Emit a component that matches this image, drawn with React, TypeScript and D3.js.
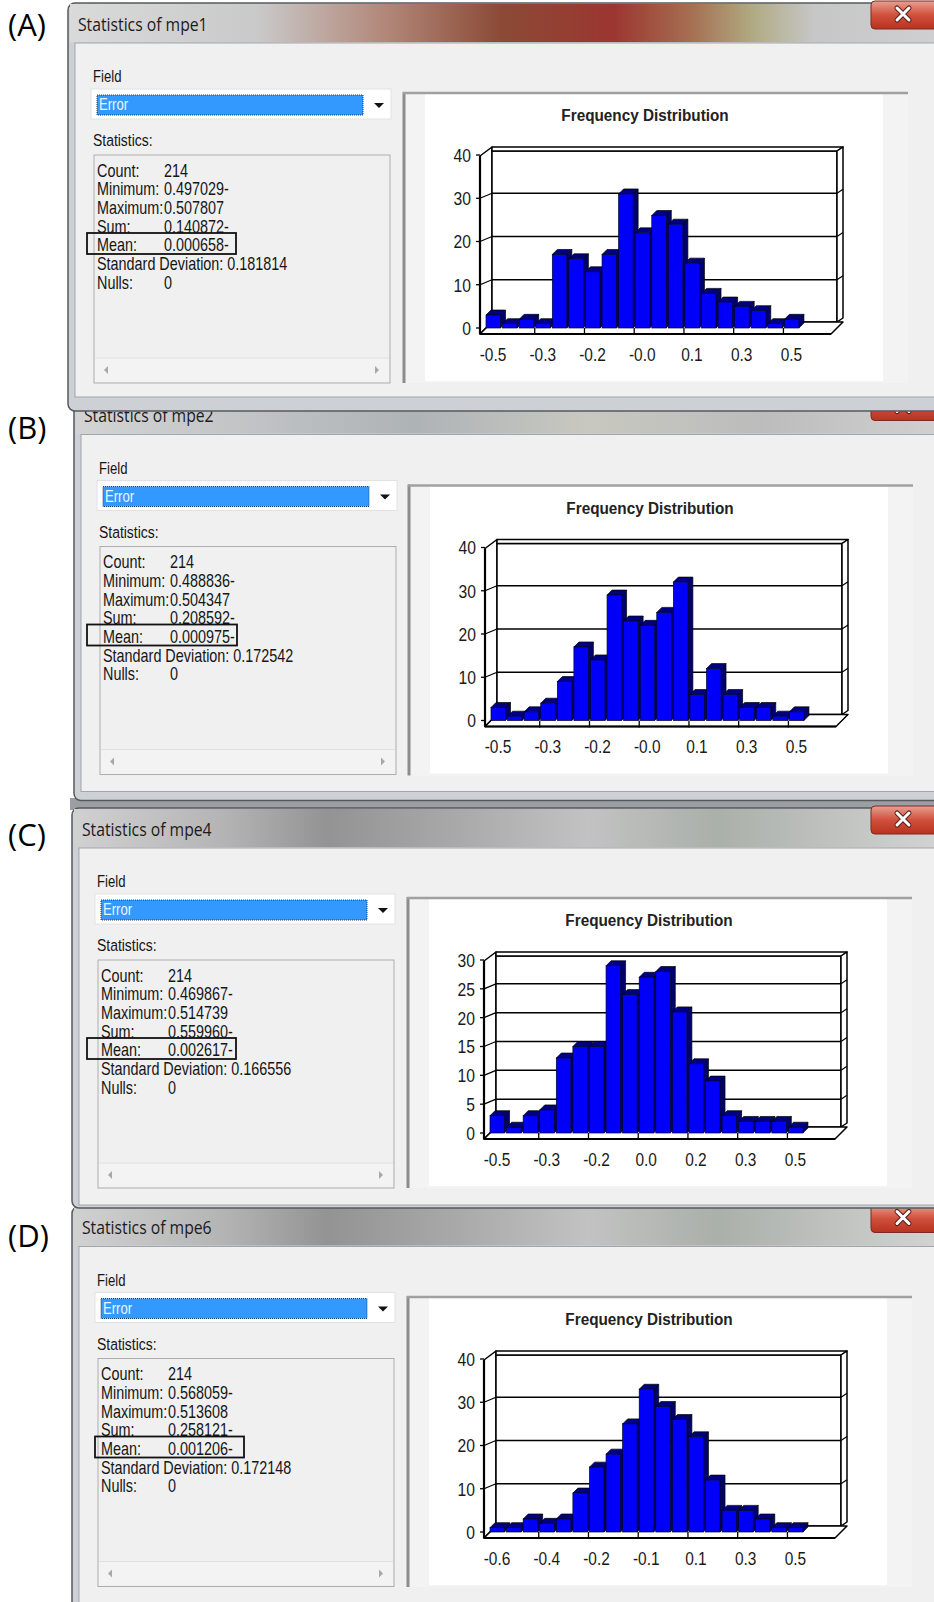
import { useEffect, useRef } from "react";
import * as d3 from "d3";

const W = 934;
const H = 1602;

// bin counts (19 bins each)
const countsA = [3, 1, 2, 1, 17, 16, 13, 17, 31, 22, 26, 24, 15, 8, 6, 5, 4, 1, 2];
const countsB = [3, 1, 2, 4, 9, 17, 14, 29, 23, 22, 25, 32, 6, 12, 6, 3, 3, 1, 2];
const countsC = [3, 1, 3, 4, 13, 15, 15, 29, 24, 27, 28, 21, 12, 9, 3, 2, 2, 2, 1];
const countsD = [1, 1, 3, 2, 3, 9, 15, 18, 25, 33, 29, 26, 22, 12, 5, 5, 3, 1, 1];

// x labels, one every third bin
const xLabelsA = ["-0.5", "-0.3", "-0.2", "-0.0", "0.1", "0.3", "0.5"];
const xLabelsB = ["-0.5", "-0.3", "-0.2", "-0.0", "0.1", "0.3", "0.5"];
const xLabelsC = ["-0.5", "-0.3", "-0.2", "0.0", "0.2", "0.3", "0.5"];
const xLabelsD = ["-0.6", "-0.4", "-0.2", "-0.1", "0.1", "0.3", "0.5"];

const yTicks40 = [0, 10, 20, 30, 40];
const yTicks30 = [0, 5, 10, 15, 20, 25, 30];

const statLabels = ["Count:", "Minimum:", "Maximum:", "Sum:", "Mean:", "Standard Deviation:", "Nulls:"];
const statsA = ["214", "0.497029-", "0.507807", "0.140872-", "0.000658-", "0.181814", "0"];
const statsB = ["214", "0.488836-", "0.504347", "0.208592-", "0.000975-", "0.172542", "0"];
const statsC = ["214", "0.469867-", "0.514739", "0.559960-", "0.002617-", "0.166556", "0"];
const statsD = ["214", "0.568059-", "0.513608", "0.258121-", "0.001206-", "0.172148", "0"];

const titles = ["Statistics of mpe1", "Statistics of mpe2", "Statistics of mpe4", "Statistics of mpe6"];
const panelLabels = ["(A)", "(B)", "(C)", "(D)"];

const UI = "'Liberation Sans', Arial, sans-serif";
const WIN = "'Open Sans', 'Noto Sans', sans-serif";

// placement of each window on the page
const panels = [
  { id: 0, counts: countsA, xLabels: xLabelsA, yTicks: yTicks40, stats: statsA, dy: 0, sx: 0, x0: 486, y0: 328, labelY: 24, winBottom: 411, contentBottom: 397, meanX: [87, 236] },
  { id: 1, counts: countsB, xLabels: xLabelsB, yTicks: yTicks40, stats: statsB, dy: 391.5, sx: 6, x0: 491, y0: 720.5, labelY: 427, winBottom: 409, contentBottom: 400, meanX: [87, 237] },
  { id: 2, counts: countsC, xLabels: xLabelsC, yTicks: yTicks30, stats: statsC, dy: 805, sx: 4, x0: 490, y0: 1133, labelY: 834, winBottom: 403, contentBottom: 400, meanX: [87, 236] },
  { id: 3, counts: countsD, xLabels: xLabelsD, yTicks: yTicks40, stats: statsD, dy: 1203.5, sx: 4, x0: 490, y0: 1532, labelY: 1235, winBottom: 420, contentBottom: 420, meanX: [95, 244] },
];

const titleBarStops = [
  [[0, "#dadada"], [0.22, "#c9c9c9"], [0.36, "#b38a7c"], [0.5, "#8b4a36"], [0.63, "#9c3630"], [0.72, "#a66f52"], [0.79, "#b0aa82"], [0.86, "#c6c6c6"], [1, "#cfcfcf"]],
  [[0, "#d4d4d4"], [0.2, "#c2c4c6"], [0.4, "#aeb3b6"], [0.6, "#c8c8c0"], [0.8, "#bcbcbc"], [1, "#d0d0d0"]],
  [[0, "#d2d2d2"], [0.18, "#b4b4b4"], [0.3, "#939393"], [0.45, "#a9a9a9"], [0.6, "#c2c2c2"], [0.75, "#aab0aa"], [1, "#d2d2d2"]],
  [[0, "#d2d2d2"], [0.18, "#b4b4b4"], [0.3, "#939393"], [0.45, "#a9a9a9"], [0.6, "#c2c2c2"], [0.75, "#aab0aa"], [1, "#d2d2d2"]],
];

type Sel = d3.Selection<any, unknown, null, undefined>;

function txt(g: Sel, s: string, x: number, y: number, o: any = {}) {
  return g
    .append("text")
    .attr("transform", `translate(${x},${y}) scale(${o.sx ?? 0.82},1)`)
    .attr("text-anchor", o.anchor ?? "start")
    .attr("dominant-baseline", "central")
    .style("font-family", o.family ?? UI)
    .style("font-size", `${o.size ?? 16}px`)
    .style("font-weight", o.weight ?? "normal")
    .style("fill", o.fill ?? "#161616")
    .text(s);
}

function drawChart(g: Sel, p: any) {
  const { x0, y0, counts, yTicks, xLabels } = p;
  const maxTick = d3.max(yTicks) as number;
  const yScale = d3.scaleLinear().domain([0, maxTick]).range([y0, y0 - 173]);
  const xBand = d3.scaleBand<number>().domain(d3.range(counts.length)).range([x0, x0 + 315]);
  const right = x0 + 351;
  const yTop = yScale(maxTick);
  const pts = (a: number[][]) => a.map((q) => q.join(",")).join(" ");

  // panel frame + white plot area
  g.append("rect").attr("x", x0 - 83).attr("y", y0 - 236).attr("width", 505).attr("height", 291).attr("fill", "#f3f3f3");
  g.append("rect").attr("x", x0 - 61).attr("y", y0 - 234).attr("width", 458).attr("height", 287).attr("fill", "#ffffff");
  g.append("line").attr("x1", x0 - 82).attr("x2", x0 - 82).attr("y1", y0 - 236).attr("y2", y0 + 55).attr("stroke", "#8c8c8c").attr("stroke-width", 3);
  g.append("line").attr("x1", x0 - 83).attr("x2", x0 + 422).attr("y1", y0 - 235).attr("y2", y0 - 235).attr("stroke", "#a0a0a0").attr("stroke-width", 2.5);

  txt(g, "Frequency Distribution", x0 + 159, y0 - 213, { size: 17, weight: "bold", sx: 0.9, anchor: "middle", fill: "#222" });

  const poly = (a: number[][], fill = "#fff", sw = 1.5) =>
    g.append("polygon").attr("points", pts(a)).attr("fill", fill).attr("stroke", "#000").attr("stroke-width", sw).attr("stroke-linejoin", "round");

  // left wall, back wall and its top / right edges
  poly([[x0 - 6, y0 + 6], [x0 - 6, yTop + 1], [x0 + 6, yTop - 8], [x0 + 6, y0 - 6]]);
  poly([[x0 + 6, yTop - 4], [right, yTop - 4], [right, y0 - 6], [x0 + 6, y0 - 6]]);
  poly([[x0 + 6, yTop - 4], [x0 + 6, yTop - 8], [right + 6, yTop - 8], [right, yTop - 4]]);
  poly([[right, yTop - 4], [right + 6, yTop - 8], [right + 6, y0 - 10], [right, y0 - 6]]);

  // gridlines
  yTicks.filter((v: number) => v > 0 && v < maxTick).forEach((v: number) => {
    const yy = yScale(v);
    g.append("line").attr("x1", x0 + 6).attr("x2", right).attr("y1", yy - 5).attr("y2", yy - 5).attr("stroke", "#000").attr("stroke-width", 1.5);
    g.append("line").attr("x1", right).attr("x2", right + 6).attr("y1", yy - 5).attr("y2", yy - 9).attr("stroke", "#000").attr("stroke-width", 1.2);
    g.append("line").attr("x1", x0 - 6).attr("x2", x0 + 6).attr("y1", yy).attr("y2", yy - 5).attr("stroke", "#000").attr("stroke-width", 1.2);
  });

  // floor
  poly([[x0 - 6, y0 + 6], [right - 6, y0 + 6], [right + 6, y0 - 6], [x0 + 6, y0 - 6]]);
  g.append("line").attr("x1", x0 - 6).attr("x2", right - 6).attr("y1", y0 + 6).attr("y2", y0 + 6).attr("stroke", "#000").attr("stroke-width", 2.2);
  g.append("line").attr("x1", x0 - 6).attr("x2", x0 - 6).attr("y1", yTop + 1).attr("y2", y0 + 6).attr("stroke", "#000").attr("stroke-width", 2.2);

  // y ticks + labels
  yTicks.forEach((v: number) => {
    const yy = yScale(v);
    g.append("line").attr("x1", x0 - 10).attr("x2", x0 - 6).attr("y1", yy).attr("y2", yy).attr("stroke", "#000").attr("stroke-width", 1.3);
    txt(g, String(v), x0 - 15, yy + 1, { size: 18, sx: 0.87, anchor: "end", fill: "#1a1a1a" });
  });

  // 3D bars
  const bw = 14.5;
  const d = 5;
  counts.forEach((c: number, i: number) => {
    const x = xBand(i) as number;
    const y = yScale(c);
    poly([[x + bw, y], [x + bw + d, y - d], [x + bw + d, y0 - d], [x + bw, y0]], "#00006e", 0.7);
    poly([[x, y], [x + d, y - d], [x + bw + d, y - d], [x + bw, y]], "#000080", 0.7);
    g.append("rect").attr("x", x).attr("y", y).attr("width", bw).attr("height", y0 - y)
      .attr("fill", "#0000fa").attr("stroke", "#000030").attr("stroke-width", 0.7);
  });

  // x ticks every 3 bins, labels under bins 0,3,6...
  d3.range(3, counts.length, 3).forEach((i) => {
    const x = (xBand(i) as number) - 1;
    g.append("line").attr("x1", x).attr("x2", x).attr("y1", y0).attr("y2", y0 + 7).attr("stroke", "#000").attr("stroke-width", 1.3);
  });
  xLabels.forEach((l: string, k: number) => {
    txt(g, l, (xBand(k * 3) as number) + 7, y0 + 27, { size: 18, sx: 0.86, anchor: "middle", fill: "#1a1a1a" });
  });
}

function drawPanel(svg: Sel, p: any) {
  const g = svg.append("g");
  const { dy, sx } = p;

  // window frame and title bar
  g.append("rect").attr("x", 68 + sx).attr("y", dy + 3).attr("width", 900).attr("height", p.winBottom - 3)
    .attr("rx", 7).attr("fill", "#cdd1d6").attr("stroke", "#55595e").attr("stroke-width", 1.5);
  g.append("rect").attr("x", 70 + sx).attr("y", dy + 4).attr("width", 880).attr("height", 38).attr("fill", `url(#tb${p.id})`);
  txt(g, titles[p.id], 78 + sx, dy + 24, { family: WIN, size: 17.5, sx: 0.9, fill: "#1b1b1b" });

  // close button
  g.append("rect").attr("x", 871).attr("y", dy + 1).attr("width", 80).attr("height", 28).attr("rx", 4)
    .attr("fill", "url(#closeGrad)").attr("stroke", "#7a2a22").attr("stroke-width", 1);
  const cx = 903;
  const cy = dy + 14;
  g.append("path").attr("d", `M${cx - 6},${cy - 6}L${cx + 6},${cy + 6}M${cx + 6},${cy - 6}L${cx - 6},${cy + 6}`)
    .attr("stroke", "#5a1f18").attr("stroke-width", 5).attr("stroke-linecap", "round");
  g.append("path").attr("d", `M${cx - 6},${cy - 6}L${cx + 6},${cy + 6}M${cx + 6},${cy - 6}L${cx - 6},${cy + 6}`)
    .attr("stroke", "#ffffff").attr("stroke-width", 3).attr("stroke-linecap", "round");

  // dialog body
  g.append("rect").attr("x", 75 + sx).attr("y", dy + 43).attr("width", 880).attr("height", p.contentBottom - 43)
    .attr("fill", "#f0f0f0").attr("stroke", "#a2a6ab").attr("stroke-width", 1);

  txt(g, "Field", 93 + sx, dy + 77, { size: 16 });
  g.append("rect").attr("x", 91 + sx).attr("y", dy + 89).attr("width", 300).attr("height", 30).attr("fill", "#ffffff").attr("stroke", "#e2e2e2");
  g.append("rect").attr("x", 97 + sx).attr("y", dy + 95).attr("width", 266).attr("height", 20)
    .attr("fill", "#3399ff").attr("stroke", "#1d3f6e").attr("stroke-dasharray", "1,1");
  txt(g, "Error", 99 + sx, dy + 105, { size: 16, fill: "#eef4ff" });
  g.append("path").attr("d", `M${374 + sx},${dy + 103}L${384 + sx},${dy + 103}L${379 + sx},${dy + 108}Z`).attr("fill", "#111");

  txt(g, "Statistics:", 93 + sx, dy + 140, { size: 17 });
  g.append("rect").attr("x", 94 + sx).attr("y", dy + 155).attr("width", 296).attr("height", 228)
    .attr("fill", "#f0f0f0").attr("stroke", "#adadad");
  g.append("rect").attr("x", 95 + sx).attr("y", dy + 358).attr("width", 294).attr("height", 24).attr("fill", "#f3f3f3");
  g.append("line").attr("x1", 95 + sx).attr("x2", 389 + sx).attr("y1", dy + 358).attr("y2", dy + 358).attr("stroke", "#e0e0e0");
  g.append("path").attr("d", `M${108 + sx},${dy + 366}L${104 + sx},${dy + 370}L${108 + sx},${dy + 374}Z`).attr("fill", "#a8a8a8");
  g.append("path").attr("d", `M${375 + sx},${dy + 366}L${379 + sx},${dy + 370}L${375 + sx},${dy + 374}Z`).attr("fill", "#a8a8a8");

  statLabels.forEach((lab, i) => {
    const y = dy + 170 + i * 18.7;
    if (i === 5) {
      txt(g, `${lab} ${p.stats[i]}`, 97 + sx, y, { size: 18, sx: 0.8 });
    } else {
      txt(g, lab, 97 + sx, y, { size: 18, sx: 0.8 });
      txt(g, p.stats[i], 164 + sx, y, { size: 18, sx: 0.8 });
    }
  });
  g.append("rect").attr("x", p.meanX[0]).attr("y", dy + 233).attr("width", p.meanX[1] - p.meanX[0]).attr("height", 21)
    .attr("fill", "none").attr("stroke", "#111").attr("stroke-width", 1.8);

  drawChart(g, p);
}

export default function App() {
  const ref = useRef<SVGSVGElement | null>(null);

  useEffect(() => {
    const svg = d3.select(ref.current) as Sel;
    svg.selectAll("*").remove();
    svg.append("rect").attr("width", W).attr("height", H).attr("fill", "#ffffff");

    const defs = svg.append("defs");
    titleBarStops.forEach((stops, i) => {
      const lg = defs.append("linearGradient").attr("id", `tb${i}`).attr("gradientUnits", "userSpaceOnUse")
        .attr("x1", 68).attr("x2", 934).attr("y1", 0).attr("y2", 0);
      stops.forEach((s: any) => lg.append("stop").attr("offset", s[0]).attr("stop-color", s[1]));
    });
    const cg = defs.append("linearGradient").attr("id", "closeGrad").attr("x1", 0).attr("x2", 0).attr("y1", 0).attr("y2", 1);
    cg.append("stop").attr("offset", 0).attr("stop-color", "#e8a092");
    cg.append("stop").attr("offset", 0.5).attr("stop-color", "#d0503c");
    cg.append("stop").attr("offset", 1).attr("stop-color", "#b8321f");

    // blurred desktop strip between windows B and C
    svg.append("rect").attr("x", 70).attr("y", 798).attr("width", 864).attr("height", 12).attr("fill", "#9b9ea2");

    // later windows first so A's bottom edge overlaps B's title bar
    [...panels].reverse().forEach((p) => drawPanel(svg, p));

    panels.forEach((p) => {
      txt(svg, panelLabels[p.id], 8, p.labelY, { family: WIN, size: 31, sx: 1, fill: "#000" });
    });
  }, []);

  return <svg ref={ref} width={W} height={H} style={{ position: "absolute", left: 0, top: 0, display: "block" }} />;
}
